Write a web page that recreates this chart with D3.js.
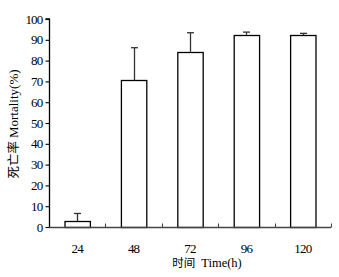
<!DOCTYPE html>
<html><head><meta charset="utf-8">
<script src="https://cdn.jsdelivr.net/npm/d3@7/dist/d3.min.js"></script>
<style>body{margin:0;background:#fff}svg{display:block}text{font-family:"Liberation Serif","Times New Roman",serif;fill:#000}</style>
</head><body><svg id="c" width="339" height="277"></svg>
<script>
const categories = ["24","48","72","96","120"];
const values = [2.8, 70.5, 84.2, 92.4, 92.2];
const errors = [3.7, 15.7, 9.2, 1.3, 0.9];
const yTicks = [0,10,20,30,40,50,60,70,80,90,100];

const svg = d3.select("#c");
const L = 49, R = 331, T = 19, B = 227;
const x = d3.scaleBand().domain(categories).range([L, R]).paddingInner(0.55).paddingOuter(0.275);
const y = d3.scaleLinear().domain([0,100]).range([B, T]);
const xb = d3.scaleBand().domain(categories).range([L, R]);

// bars
svg.selectAll("rect.bar").data(values).join("rect")
  .attr("x", (d,i) => x(categories[i]) + 0.5)
  .attr("y", d => Math.round(y(d)) + 0.5)
  .attr("width", x.bandwidth())
  .attr("height", d => B - Math.round(y(d)))
  .attr("fill", "#fff").attr("stroke", "#000").attr("stroke-width", 1.3);

// error bars
const eg = svg.append("g").attr("stroke", "#333").attr("stroke-width", 1.3);
values.forEach((v,i) => {
  const cx = Math.round(x(categories[i]) + x.bandwidth()/2) + 0.5;
  eg.append("line").attr("x1", cx).attr("x2", cx).attr("y1", y(v)).attr("y2", y(v+errors[i]));
  eg.append("line").attr("x1", cx-3.5).attr("x2", cx+3.5).attr("y1", y(v+errors[i])).attr("y2", y(v+errors[i]));
});

// y axis
const ya = svg.append("g").attr("transform", `translate(${L+0.5},0)`)
  .call(d3.axisLeft(y).tickValues(yTicks).tickSize(4).tickPadding(3));
ya.select(".domain").attr("d", `M-4,${T}H0V${B}`).attr("stroke-width", 1.3);
ya.selectAll("line").attr("stroke-width", 1.1);
ya.selectAll("text").attr("font-size", 13).attr("font-family", "Liberation Serif").style("letter-spacing", "-0.8px");

// x axis
const xa = svg.append("g").attr("transform", `translate(0,${B+0.5})`);
xa.append("line").attr("x1", L).attr("x2", R).attr("y1", 0).attr("y2", 0).attr("stroke", "#444").attr("stroke-width", 1.3);
const bounds = categories.map(c => xb(c) + xb.bandwidth());
xa.selectAll("line.t").data(bounds).join("line").attr("class","t")
  .attr("x1", d => Math.round(d)+0.5).attr("x2", d => Math.round(d)+0.5).attr("y1", 0).attr("y2", -4)
  .attr("stroke", "#444").attr("stroke-width", 1.1);
xa.selectAll("text").data(categories).join("text")
  .attr("x", d => xb(d) + xb.bandwidth()/2).attr("y", 25)
  .attr("text-anchor", "middle").attr("font-size", 13).style("letter-spacing", "-0.8px").text(d => d);

// titles
svg.append("text").attr("x", 207).attr("y", 267).attr("text-anchor", "middle").attr("font-size", 12.5)
  .html('<tspan font-family="Noto Sans CJK SC" font-size="11.5">时间</tspan><tspan dx="6">Time(h)</tspan>');
svg.append("text").attr("transform", "translate(18,124) rotate(-90)").attr("text-anchor", "middle").attr("font-size", 13)
  .html('<tspan font-family="Noto Sans CJK SC" font-size="12.5">死亡率</tspan><tspan dx="3">Mortality(%)</tspan>');
</script></body></html>
